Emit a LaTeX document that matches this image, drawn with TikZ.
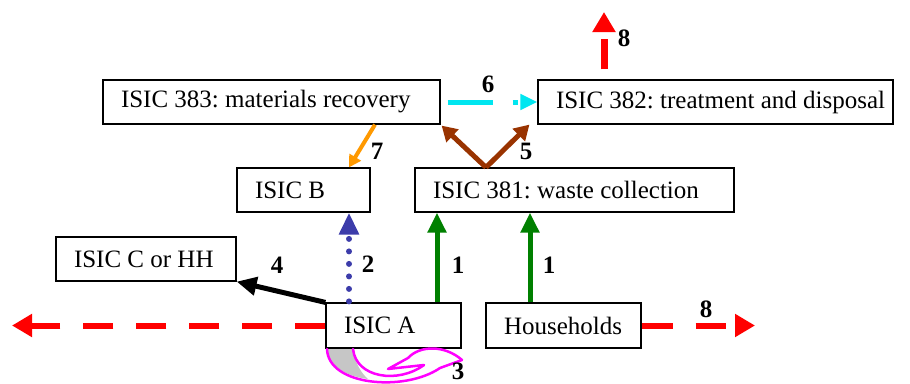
\documentclass[tikz,border=0pt]{standalone}
\usepackage{fontspec}
\setmainfont{Liberation Serif}
\usetikzlibrary{arrows.meta}
\definecolor{flowred}{RGB}{255,0,0}
\definecolor{flowgreen}{RGB}{0,128,0}
\definecolor{flowbrown}{RGB}{153,51,0}
\definecolor{flowcyan}{RGB}{0,230,240}
\definecolor{flowblue}{RGB}{60,60,170}
\definecolor{floworange}{RGB}{255,153,0}
\definecolor{flowmagenta}{RGB}{255,0,255}
% box text: left aligned with a fixed indent inside a box of given width
\newcommand\unittext[2]{\hbox to #1{\hskip18pt\relax #2\hss}}
\tikzset{
  unit/.style={draw, line width=1.2pt, inner sep=0pt, font=\fontsize{25}{28}\selectfont},
  flowlabel/.style={font=\bfseries\fontsize{25}{28}\selectfont, inner sep=0pt},
  bighead/.style={-{Triangle[length=20pt,width=22pt]}},
}
\begin{document}
\begin{tikzpicture}[x=1pt,y=-1pt]
\useasboundingbox (0,0) rectangle (910,383);

% activity boxes
\node[unit, minimum height=44pt] (r383) at (271.5,102) {\unittext{337pt}{ISIC 383:\ materials recovery}};
\node[unit, minimum height=44pt] (r382) at (715.5,102) {\unittext{355pt}{ISIC 382:\ treatment and disposal}};
\node[unit, minimum height=44pt] (rB) at (303.5,190) {\unittext{133pt}{ISIC B}};
\node[unit, minimum height=44pt] (r381) at (574.5,190) {\unittext{319pt}{ISIC 381:\ waste collection}};
\node[unit, minimum height=44pt] (rC) at (146,259) {\unittext{180pt}{ISIC C or HH}};
\node[unit, minimum height=45pt] (rA) at (393.5,325.5) {\unittext{135pt}{ISIC A}};
\node[unit, minimum height=45pt] (rH) at (563.5,325.5) {\unittext{155pt}{Households}};

% free ends of the outgoing flows
\coordinate (outW) at (12,325.5);
\coordinate (outE) at (755,325.5);
\coordinate (outN) at (604,12);

% 8: flows leaving the system
\draw[flowred, line width=6pt, dash pattern=on 30pt off 23pt, bighead] (rA.west) -- (outW);
\draw[flowred, line width=6pt, dash pattern=on 31pt off 23pt on 30pt off 40pt, bighead] (rH.east) -- (outE);
\draw[flowred, line width=7pt, dash pattern=on 30pt off 30pt, bighead, shorten <=10pt] ([xshift=-111.5pt]r382.north) -- (outN);

% 1: collection
\draw[flowgreen, line width=5pt, -{Triangle[length=20pt,width=18pt]}] ([xshift=43.5pt]rA.north) -- ([xshift=43.5pt]rA.north |- r381.south);
\draw[flowgreen, line width=5pt, -{Triangle[length=20pt,width=18pt]}] ([xshift=-33.5pt]rH.north) -- ([xshift=-33.5pt]rH.north |- r381.south);

% 2: by-products to ISIC B
\draw[flowblue, line width=6pt, line cap=round, dash pattern=on 0pt off 12.5pt, shorten <=1pt,
      -{Triangle[length=22pt,width=19pt,line cap=butt]}] ([xshift=-44.5pt]rA.north) -- ([xshift=-44.5pt]rA.north |- rB.south);

% 4: to other activities or households
\draw[black, line width=5pt, -{Triangle[length=20pt,width=18pt]}] (rA.north west) -- (rC.south east);

% 5: from collection to recovery and disposal
\coordinate (split) at ([xshift=-88.5pt]r381.north);
\draw[flowbrown, line width=5pt, -{Triangle[length=15pt,width=17pt]}] (split) -- ([xshift=1pt,yshift=-1pt]r383.south east);
\draw[flowbrown, line width=5pt, -{Triangle[length=15pt,width=17pt]}] (split) -- ([xshift=-8pt]r382.south west);

% 6: recovery residues to disposal
\draw[flowcyan, line width=5pt, dash pattern=on 45pt off 20pt on 5pt off 20pt, shorten <=7pt,
      -{Triangle[length=17pt,width=15pt]}] (r383.east) -- (r382.west);

% 7: recovered materials to ISIC B
\draw[floworange, line width=4pt, -{Triangle[length=12pt,width=13pt]}] ([xshift=103.5pt]r383.south) -- ([xshift=45.5pt]rB.north);

% 3: reuse within ISIC A (curved ribbon arrow, back side shaded)
\fill[gray!45] (327,349) -- (353,349) .. controls (355,362) and (360,372) .. (368,379)
  .. controls (345,376) and (329,366) .. (327,349) -- cycle;
\begin{scope}[flowmagenta, line width=2.5pt, line join=round, line cap=round]
  \draw (327,349) .. controls (328,386) and (405,392) .. (440,368) -- (462,360);
  \draw (353,349) .. controls (356,378) and (398,384) .. (424,365);
  \draw (408,358) -- (388,369) -- (424,365);
  \draw (408,358) .. controls (420,345) and (445,345) .. (462,360);
\end{scope}

% flow numbers
\node[flowlabel] (n8a) at (624,38) {8};
\node[flowlabel] (n6) at (488,84) {6};
\node[flowlabel] (n5) at (526,151) {5};
\node[flowlabel] (n7) at (377,151) {7};
\node[flowlabel] (n2) at (368,264) {2};
\node[flowlabel] (n4) at (277,265) {4};
\node[flowlabel] (n1a) at (458,265) {1};
\node[flowlabel] (n1b) at (549,265) {1};
\node[flowlabel] (n8b) at (706,309) {8};
\node[flowlabel] (n3) at (458,371) {3};
\end{tikzpicture}
\end{document}
